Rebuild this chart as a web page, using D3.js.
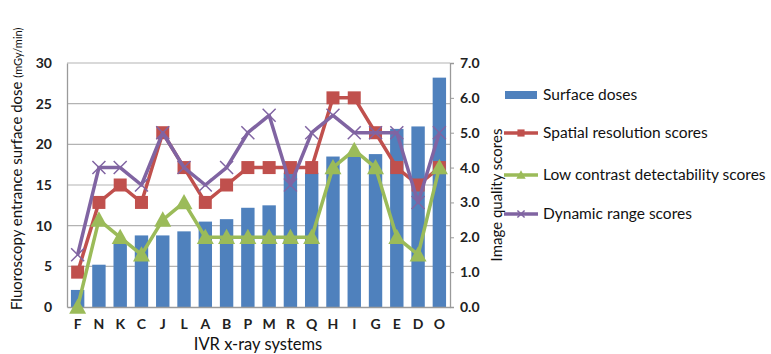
<!DOCTYPE html>
<html><head><meta charset="utf-8">
<script src="https://cdn.jsdelivr.net/npm/d3@7"></script>
<style>body{margin:0;background:#fff}svg{display:block}text{font-family:Lato,"Open Sans",sans-serif}</style>
</head><body>
<script>
const categories = ["F","N","K","C","J","L","A","B","P","M","R","Q","H","I","G","E","D","O"];
const surfaceDoses = [2.1,5.2,8.0,8.8,8.8,9.3,10.5,10.8,12.2,12.5,16.5,16.5,18.5,18.5,18.8,21.9,22.2,28.2];
const spatialResolution = [1.0,3.0,3.5,3.0,5.0,4.0,3.0,3.5,4.0,4.0,4.0,4.0,6.0,6.0,5.0,4.0,3.5,4.0];
const lowContrast = [0,2.5,2.0,1.5,2.5,3.0,2.0,2.0,2.0,2.0,2.0,2.0,4.0,4.5,4.0,2.0,1.5,4.0];
const dynamicRange = [1.5,4.0,4.0,3.5,5.0,4.0,3.5,4.0,5.0,5.5,3.5,5.0,5.5,5.0,5.0,5.0,3.0,5.0];
const leftTicks = [0,5,10,15,20,25,30];
const rightTicks = [0,1,2,3,4,5,6,7];
const legendLabels = ["Surface doses","Spatial resolution scores","Low contrast detectability scores","Dynamic range scores"];
const colors = {bar:"#4F81BD", red:"#C0504D", green:"#9BBB59", purple:"#8064A2"};

const W=771,H=354;
const svg=d3.select("body").append("svg").attr("width",W).attr("height",H);
const L=67,R=450,T=63,B=307;
const x=d3.scaleBand().domain(categories).range([L,R]).paddingInner(0.37).paddingOuter(0.185);
const yL=d3.scaleLinear().domain([0,30]).range([B,T]);
const yR=d3.scaleLinear().domain([0,7]).range([B,T]);

// gridlines
svg.append("g").selectAll("line").data(leftTicks.slice(1)).join("line")
 .attr("x1",L).attr("x2",R).attr("y1",d=>yL(d)).attr("y2",d=>yL(d))
 .attr("stroke","#b3b3b3").attr("stroke-width",1.2);

// bars
svg.append("g").selectAll("rect").data(surfaceDoses).join("rect")
 .attr("x",(d,i)=>x(categories[i])).attr("width",x.bandwidth())
 .attr("y",d=>yL(d)).attr("height",d=>B-yL(d)).attr("fill",colors.bar);

// axes
const axL=svg.append("g").attr("transform",`translate(${L},0)`).call(d3.axisLeft(yL).tickValues(leftTicks).tickSize(0).tickPadding(15));
axL.select(".domain").attr("stroke","#9a9a9a").attr("stroke-width",1.3);
axL.selectAll("text").attr("font-size",14).attr("font-weight","bold").attr("fill","#222");
const axR=svg.append("g").attr("transform",`translate(${R},0)`).call(d3.axisRight(yR).tickValues(rightTicks).tickSize(4).tickPadding(6).tickFormat(d3.format(".1f")));
axR.select(".domain").attr("stroke","#9a9a9a").attr("stroke-width",1.3);
axR.selectAll("line").attr("stroke","#9a9a9a");
axR.selectAll("text").attr("font-size",14).attr("font-weight","bold").attr("fill","#222");
const axB=svg.append("g").attr("transform",`translate(0,${B})`).call(d3.axisBottom(x).tickSize(0).tickPadding(12));
axB.select(".domain").attr("stroke","#9a9a9a").attr("stroke-width",1.3);
axB.selectAll("text").attr("font-size",14).attr("font-weight","bold").attr("fill","#222");

const cx=c=>x(c)+x.bandwidth()/2;
function series(vals,color,shape){
  const line=d3.line().x((d,i)=>cx(categories[i])).y(d=>yR(d));
  svg.append("path").datum(vals).attr("d",line).attr("fill","none").attr("stroke",color).attr("stroke-width",3.5).attr("stroke-linejoin","round");
  const g=svg.append("g");
  vals.forEach((v,i)=>drawMarker(g,cx(categories[i]),yR(v),color,shape,1));
}
function drawMarker(g,px,py,color,shape,s){
  if(shape==="square"){
    const a=13*s;
    g.append("rect").attr("x",px-a/2).attr("y",py-a/2).attr("width",a).attr("height",a).attr("fill",color);
  } else if(shape==="tri"){
    const a=8.5*s;
    g.append("path").attr("d",`M${px},${py-a}L${px+a},${py+a*0.8}L${px-a},${py+a*0.8}Z`).attr("fill",color);
  } else {
    const a=6.5*s;
    g.append("path").attr("d",`M${px-a},${py-a}L${px+a},${py+a}M${px-a},${py+a}L${px+a},${py-a}`).attr("stroke",color).attr("stroke-width",1.5);
  }
}
series(spatialResolution,colors.red,"square");
series(lowContrast,colors.green,"tri");
series(dynamicRange,colors.purple,"x");

// axis titles
const lt=svg.append("text").attr("transform",`translate(22,${B+3}) rotate(-90)`).attr("font-size",15).attr("fill","#111");
lt.append("tspan").text("Fluoroscopy entrance surface dose ");
lt.append("tspan").attr("font-size",11).text("(mGy/min)");
svg.append("text").attr("transform",`translate(502,195) rotate(-90)`).attr("text-anchor","middle").attr("font-size",15).attr("fill","#111").text("Image quality scores");
svg.append("text").attr("x",258).attr("y",350).attr("text-anchor","middle").attr("font-size",16.5).attr("fill","#111").text("IVR x-ray systems");

// legend
const ly=[95,133,175,214];
const lg=svg.append("g");
lg.append("rect").attr("x",505).attr("y",ly[0]-4).attr("width",32).attr("height",8).attr("fill",colors.bar);
[[colors.red,"square"],[colors.green,"tri"],[colors.purple,"x"]].forEach(([c,s],i)=>{
  lg.append("line").attr("x1",504).attr("x2",538).attr("y1",ly[i+1]).attr("y2",ly[i+1]).attr("stroke",c).attr("stroke-width",3.5);
  drawMarker(lg,521,ly[i+1],c,s,0.55);
});
lg.selectAll("text.l").data(legendLabels).join("text").attr("x",543).attr("y",(d,i)=>ly[i]+5)
 .attr("font-size",15.5).attr("fill","#111").text(d=>d);
</script>
</body></html>
